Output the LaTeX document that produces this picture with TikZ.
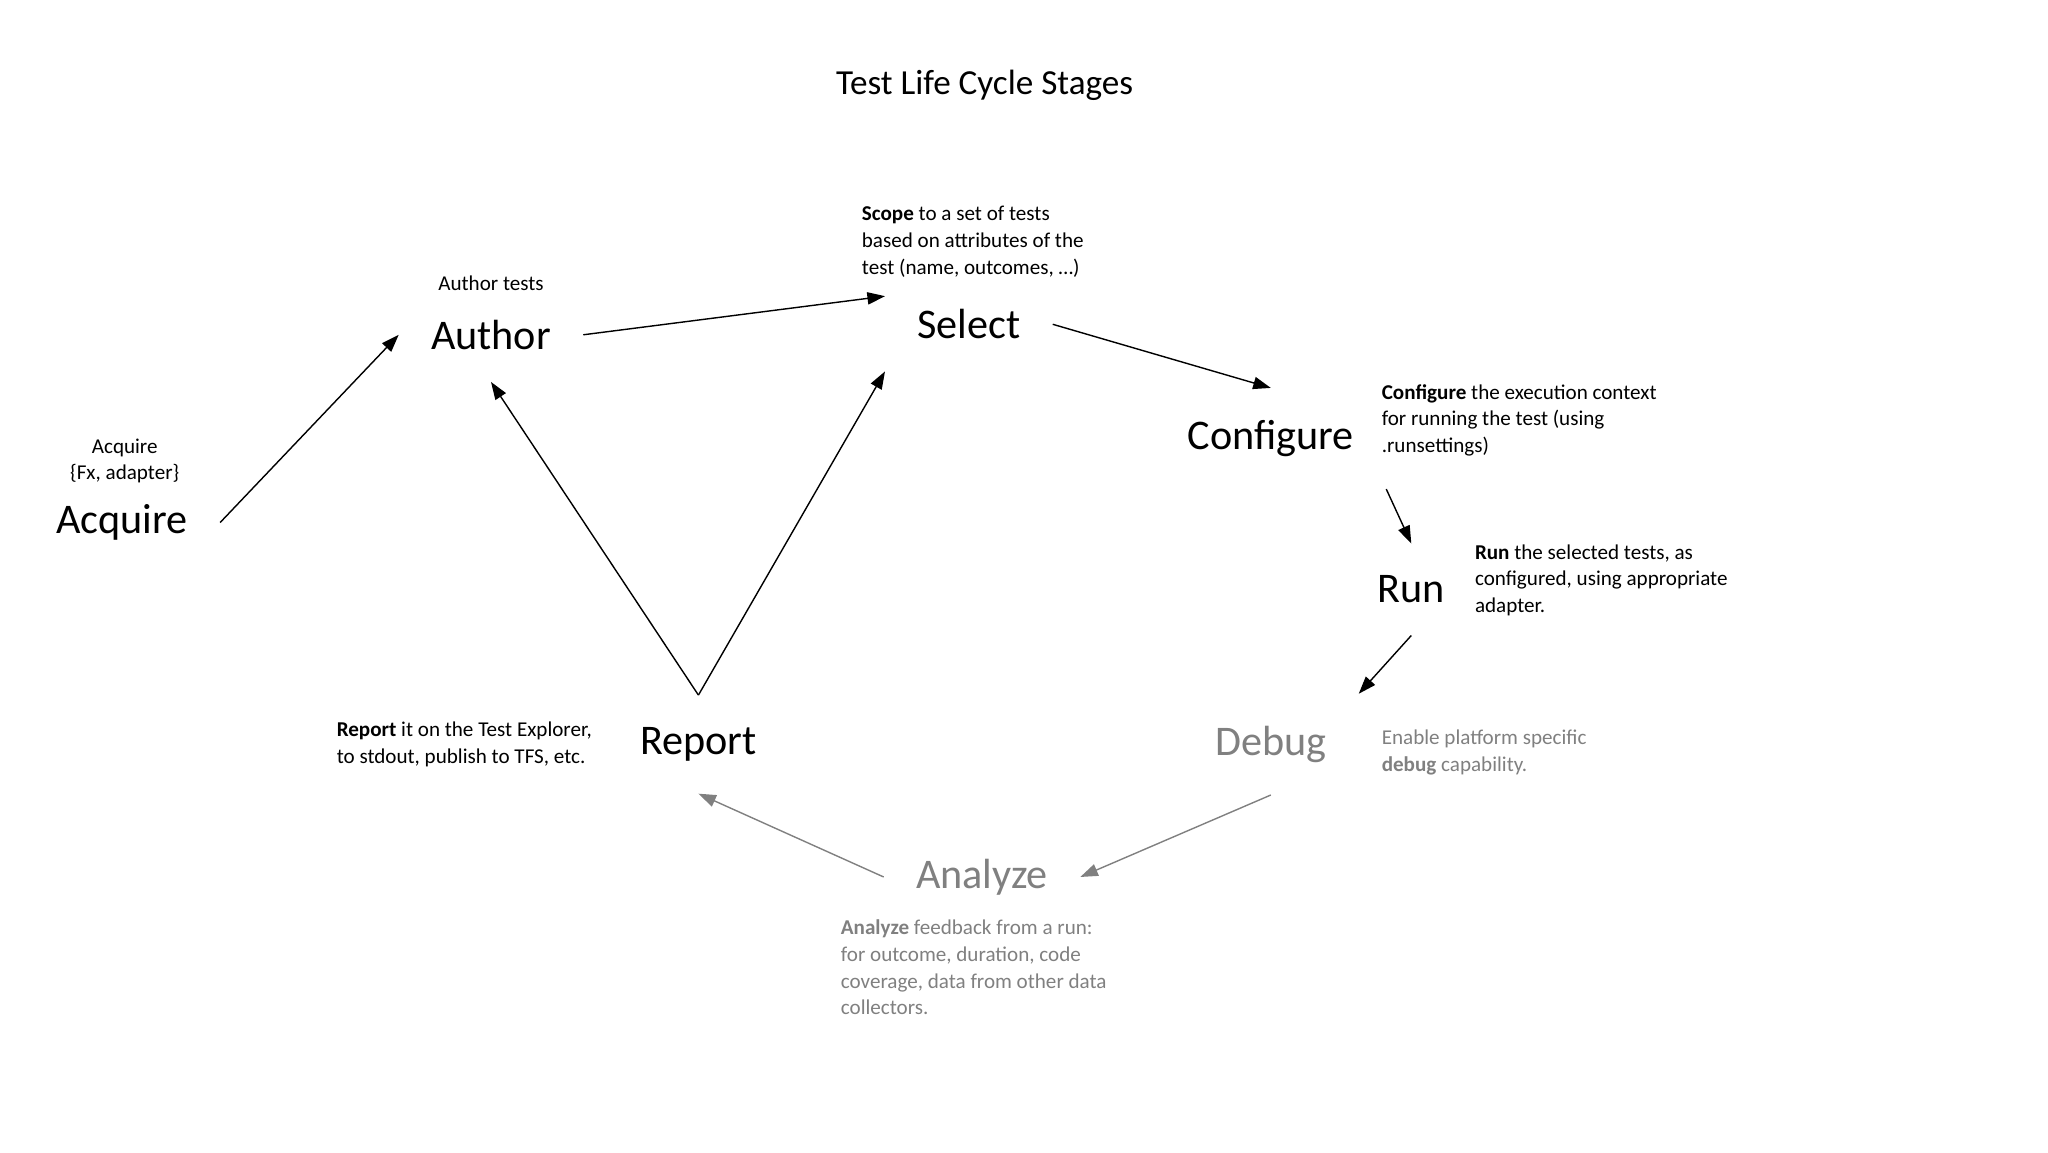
\documentclass[tikz,border=0pt]{standalone}
\usepackage{fontspec}
\setmainfont{Carlito}
\usetikzlibrary{arrows.meta,positioning}
\definecolor{dim}{RGB}{128,128,128}

\begin{document}
\begin{tikzpicture}[x=0.01312cm, y=-0.01312cm,
    stage/.style={font=\fontsize{12}{14}\selectfont, inner sep=9pt},
    note/.style={font=\fontsize{6}{7.6}\selectfont, align=left, inner sep=0pt},
    flow/.style={-{Triangle[length=5pt,width=3.5pt]}, line width=0.4pt}]
    \useasboundingbox (0,0) rectangle (1560,877.5);

    % Title
    \node[font=\fontsize{10}{12}\selectfont] (title) at (750,65) {Test Life Cycle Stages};

    % Stages
    \node[stage] (acquire) at (93,398) {Acquire};
    \node[stage] (author) at (374,255) {Author};
    \node[stage] (select) at (738,247) {Select};
    \node[stage] (configure) at (968,334) {Configure};
    \node[stage] (run) at (1075,449) {Run};
    \node[stage, text=dim] (debug) at (968,567) {Debug};
    \node[stage] (report) at (532,567) {Report};
    \node[stage, text=dim] (analyze) at (748,668) {Analyze};

    % Notes
    \node[note, align=center] (acquirenote) at (95,351) {Acquire\\\{Fx, adapter\}};
    \node[note] (authornote) at (374,216) {Author tests};
    \node[note, anchor=west] (selectnote) at (656,184) {\textbf{Scope} to a set of tests\\based on attributes of the\\test (name, outcomes, \dots)};
    \node[note, anchor=west] (configurenote) at (1052,320) {\textbf{Configure} the execution context\\for running the test (using\\.runsettings)};
    \node[note, anchor=west] (runnote) at (1123,442) {\textbf{Run} the selected tests, as\\configured, using appropriate\\adapter.};
    \node[note, anchor=west, text=dim] (debugnote) at (1052,573) {Enable platform specific\\\textbf{debug} capability.};
    \node[note, anchor=west] (reportnote) at (256,567) {\textbf{Report} it on the Test Explorer,\\to stdout, publish to TFS, etc.};
    \node[note, anchor=west, text=dim] (analyzenote) at (640,737) {\textbf{Analyze} feedback from a run:\\for outcome, duration, code\\coverage, data from other data\\collectors.};

    % Connectors
    \draw[flow] (acquire.east) -- (author.west);
    \draw[flow] (author.east) -- ([yshift=8pt]select.west);
    \draw[flow] (select.east) -- (configure.north);
    \draw[flow] (configure.south east) -- (run.north);
    \draw[flow] (run.south) -- (debug.north east);
    \draw[flow, dim] (debug.south) -- (analyze.east);
    \draw[flow, dim] (analyze.west) -- (report.south);
    \draw[flow] (report.north) -- (author.south);
    \draw[flow] (report.north) -- (select.south west);
\end{tikzpicture}
\end{document}
